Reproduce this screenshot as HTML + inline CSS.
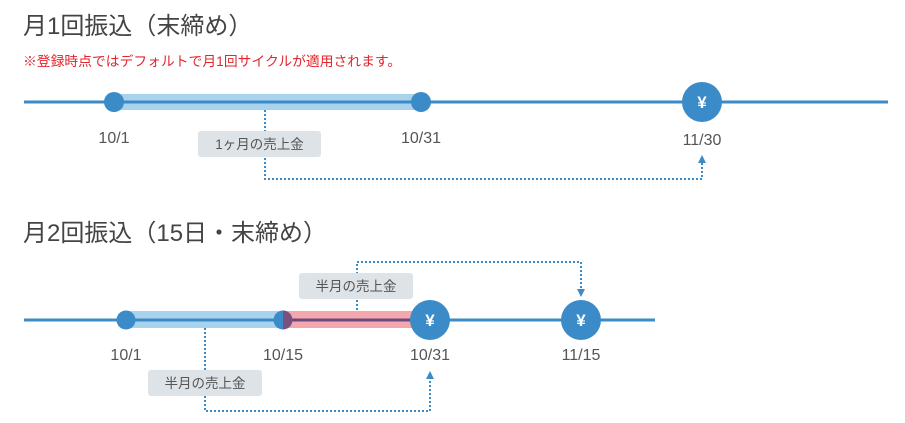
<!DOCTYPE html>
<html><head><meta charset="utf-8"><style>
html,body{margin:0;padding:0;background:#fff;width:905px;height:423px;overflow:hidden}
text{font-family:"Liberation Sans","Noto Sans CJK JP",sans-serif}
</style></head><body>
<svg width="905" height="423" viewBox="0 0 905 423" xmlns="http://www.w3.org/2000/svg">
<text x="23" y="34" font-size="24" fill="#444">月1回振込（末締め）</text>
<text x="23" y="66" font-size="13.8" fill="#e2262d">※登録時点ではデフォルトで月1回サイクルが適用されます。</text>
<!-- timeline 1 -->
<rect x="114" y="94" width="307" height="16" fill="#a9d3ec"/>
<line x1="24" y1="102" x2="888" y2="102" stroke="#3a8bc8" stroke-width="3"/>
<circle cx="114" cy="102" r="10" fill="#3a8bc8"/>
<circle cx="421" cy="102" r="10" fill="#3a8bc8"/>
<circle cx="702" cy="102" r="20" fill="#3a8bc8"/>
<text x="702" y="108" font-size="17" font-weight="bold" fill="#fff" text-anchor="middle">¥</text>
<text x="114" y="143" font-size="16" fill="#555" text-anchor="middle">10/1</text>
<text x="421" y="143" font-size="16" fill="#555" text-anchor="middle">10/31</text>
<text x="702" y="145" font-size="16" fill="#555" text-anchor="middle">11/30</text>
<polyline points="265,110 265,179 702,179 702,162" fill="none" stroke="#3a8bc8" stroke-width="2" stroke-dasharray="2,2"/>
<polygon points="702,155 698,163 706,163" fill="#3a8bc8"/>
<rect x="198" y="131" width="123" height="26" rx="3" fill="#dde3e7"/>
<text x="259.5" y="149" font-size="13.5" fill="#555" text-anchor="middle">1ヶ月の売上金</text>
<!-- timeline 2 -->
<text x="23" y="241" font-size="24" fill="#444">月2回振込（15日・末締め）</text>
<rect x="126" y="311" width="157" height="17" fill="#a9d3ec"/>
<rect x="283" y="311" width="147" height="17" fill="#f4a7ad"/>
<line x1="24" y1="320" x2="655" y2="320" stroke="#3a8bc8" stroke-width="3"/>
<line x1="283" y1="320" x2="430" y2="320" stroke="#6a4b7d" stroke-width="3"/>
<circle cx="126" cy="320" r="9.5" fill="#3a8bc8"/>
<path d="M283,310.5 A9.5,9.5 0 0 0 283,329.5 Z" fill="#3a8bc8"/>
<path d="M283,310.5 A9.5,9.5 0 0 1 283,329.5 Z" fill="#7a5080"/>
<circle cx="430" cy="320" r="20" fill="#3a8bc8"/>
<circle cx="581" cy="320" r="20" fill="#3a8bc8"/>
<text x="430" y="326" font-size="17" font-weight="bold" fill="#fff" text-anchor="middle">¥</text>
<text x="581" y="326" font-size="17" font-weight="bold" fill="#fff" text-anchor="middle">¥</text>
<text x="126" y="360" font-size="16" fill="#555" text-anchor="middle">10/1</text>
<text x="283" y="360" font-size="16" fill="#555" text-anchor="middle">10/15</text>
<text x="430" y="360" font-size="16" fill="#555" text-anchor="middle">10/31</text>
<text x="581" y="360" font-size="16" fill="#555" text-anchor="middle">11/15</text>
<polyline points="205,328 205,411 430,411 430,378" fill="none" stroke="#3a8bc8" stroke-width="2" stroke-dasharray="2,2"/>
<polygon points="430,371 426,379 434,379" fill="#3a8bc8"/>
<polyline points="357,310 357,262 581,262 581,290" fill="none" stroke="#3a8bc8" stroke-width="2" stroke-dasharray="2,2"/>
<polygon points="581,297 577,289 585,289" fill="#3a8bc8"/>
<rect x="299" y="273" width="114" height="26" rx="3" fill="#dde3e7"/>
<text x="356" y="291" font-size="13.5" fill="#555" text-anchor="middle">半月の売上金</text>
<rect x="148" y="370" width="114" height="26" rx="3" fill="#dde3e7"/>
<text x="205" y="388" font-size="13.5" fill="#555" text-anchor="middle">半月の売上金</text>
</svg>
</body></html>
